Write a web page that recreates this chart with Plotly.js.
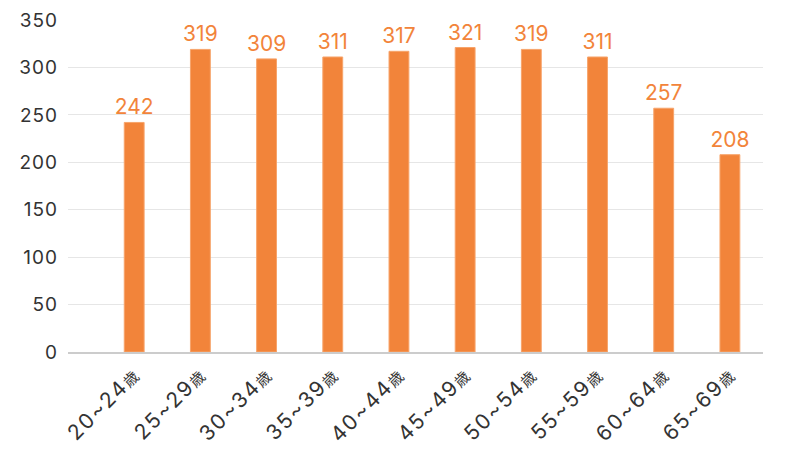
<!DOCTYPE html>
<html>
<head>
<meta charset="utf-8">
<script src="https://cdn.plot.ly/plotly-3.0.1.min.js"></script>
<style>html,body{margin:0;padding:0;background:#fff;}#chart{width:800px;height:451px;}
.xtick text{letter-spacing:2px;}
.ytick text{letter-spacing:1px;}</style>
</head>
<body>
<div id="chart"></div>
<script>
var categories = ["20~24歳","25~29歳","30~34歳","35~39歳","40~44歳","45~49歳","50~54歳","55~59歳","60~64歳","65~69歳"];
var values = [242, 319, 309, 311, 317, 321, 319, 311, 257, 208];
var yTicks = [0, 50, 100, 150, 200, 250, 300, 350];

var fontFam = "Inter, 'Noto Sans CJK JP', sans-serif";
var orange = "#F2843A";

var tickText = categories.map(function (c) {
  return c.replace("歳", "<span style='font-size:15px'>歳</span>");
});

Plotly.newPlot("chart", [{
  type: "bar",
  x: categories,
  y: values,
  text: values.map(String),
  textposition: "outside",
  constraintext: "none",
  cliponaxis: false,
  textfont: {family: fontFam, size: 21, color: orange},
  marker: {color: orange, line: {color: "#F7A46B", width: 1}},
  width: 0.3,
  hoverinfo: "skip"
}], {
  width: 800, height: 451,
  margin: {l: 68, r: 37, t: 20, b: 99},
  paper_bgcolor: "#fff", plot_bgcolor: "#fff",
  showlegend: false,
  xaxis: {
    type: "category",
    range: [-1.0, 9.5],
    tickangle: -45,
    tickvals: categories,
    ticktext: tickText,
    tickfont: {family: fontFam, size: 21, color: "#333"},
    showgrid: false,
    showline: true, linecolor: "#cccccc", linewidth: 2,
    ticks: ""
  },
  yaxis: {
    range: [0, 350],
    tickvals: yTicks,
    ticktext: yTicks.map(String),
    tickfont: {family: fontFam, size: 19, color: "#333"},
    gridcolor: "#e6e6e6", gridwidth: 1,
    zeroline: false,
    showline: false,
    ticklabelstandoff: 9
  },
  bargap: 0.7
}, {displayModeBar: false, staticPlot: true});
</script>
</body>
</html>
